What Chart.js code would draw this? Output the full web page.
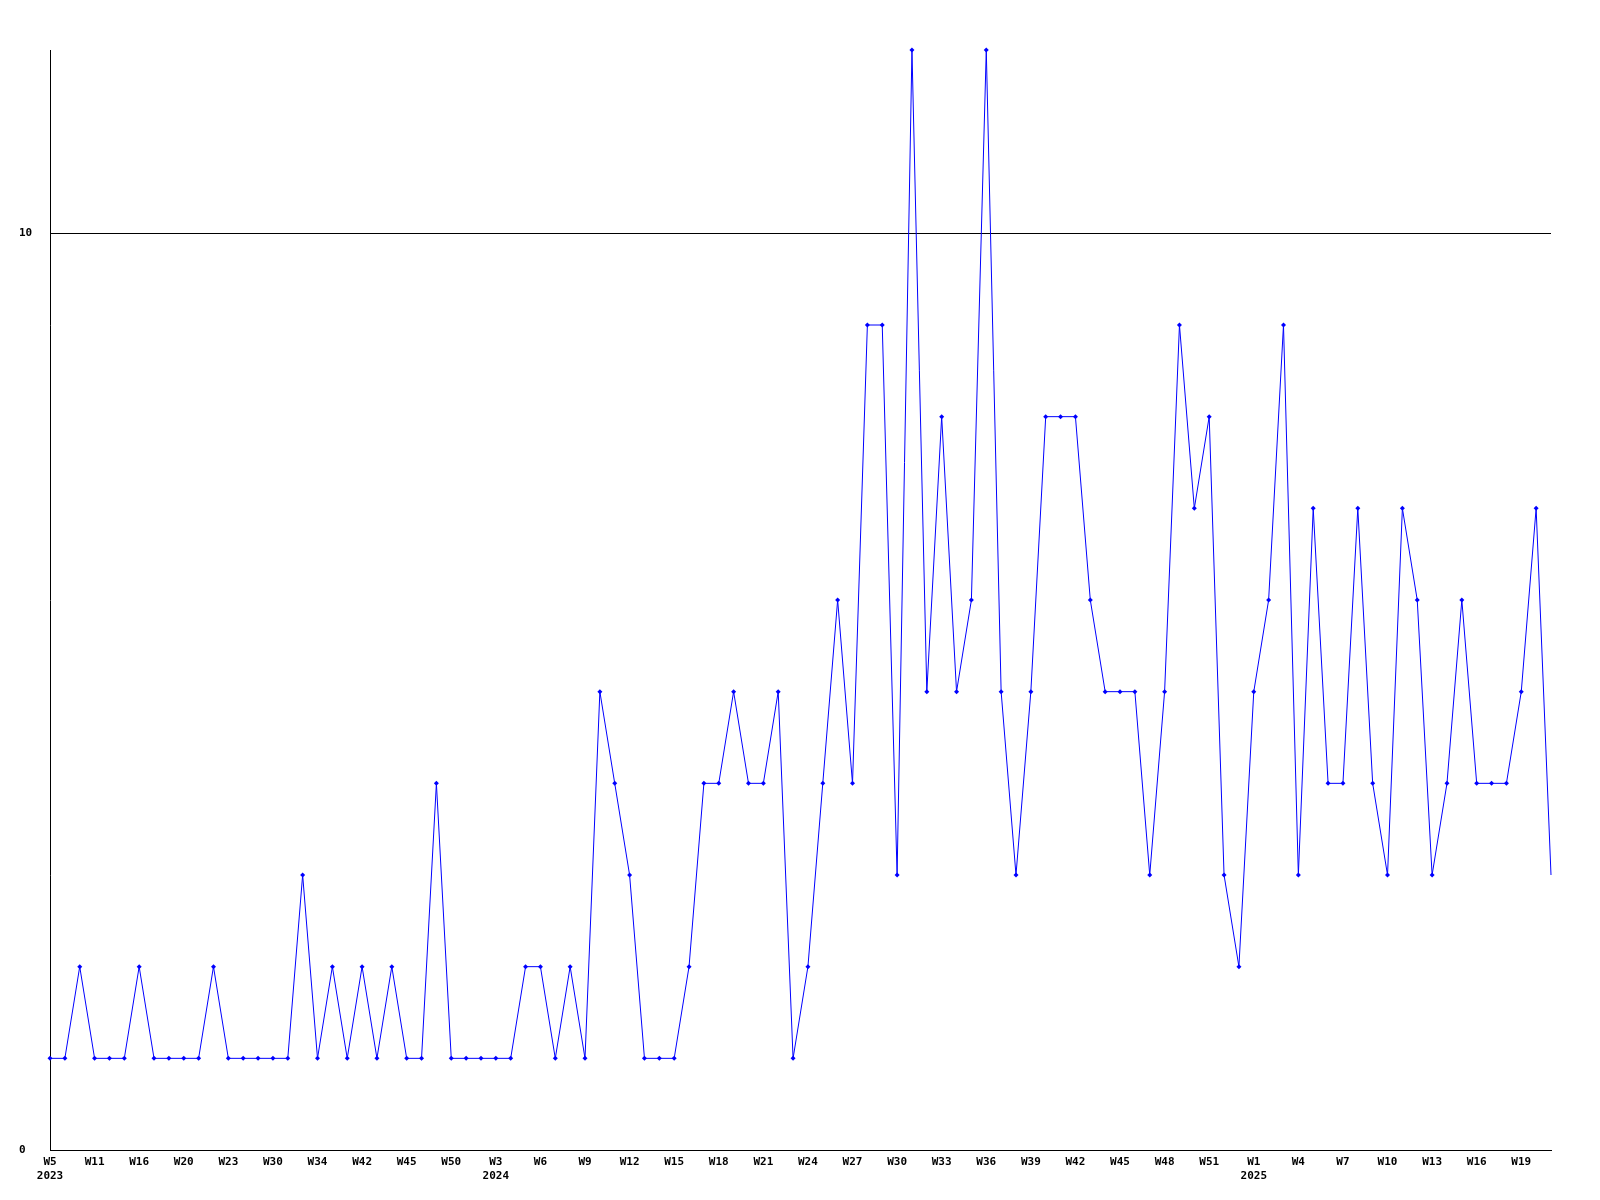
<!DOCTYPE html>
<html>
<head>
<meta charset="utf-8">
<script src="https://cdn.jsdelivr.net/npm/chart.js@4.4.0/dist/chart.umd.min.js"></script>
<style>
    html, body { margin: 0; padding: 0; background: #fff; }
    #wrap { width: 1600px; height: 1200px; }
</style>
</head>
<body>
<div id="wrap"><canvas id="myChart"></canvas></div>
<script>
// weekly counts, 2023 W5 .. 2025 W21
const weeks = [
    'W5', 'W7', 'W9', 'W11', 'W13', 'W14', 'W16', 'W17', 'W19', 'W20',
    'W21', 'W22', 'W23', 'W25', 'W27', 'W30', 'W31', 'W33', 'W34', 'W36',
    'W39', 'W42', 'W43', 'W44', 'W45', 'W46', 'W48', 'W50', 'W1', 'W2',
    'W3', 'W4', 'W5', 'W6', 'W7', 'W8', 'W9', 'W10', 'W11', 'W12',
    'W13', 'W14', 'W15', 'W16', 'W17', 'W18', 'W19', 'W20', 'W21', 'W22',
    'W23', 'W24', 'W25', 'W26', 'W27', 'W28', 'W29', 'W30', 'W31', 'W32',
    'W33', 'W34', 'W35', 'W36', 'W37', 'W38', 'W39', 'W40', 'W41', 'W42',
    'W43', 'W44', 'W45', 'W46', 'W47', 'W48', 'W49', 'W50', 'W51', 'W52',
    'W53', 'W1', 'W2', 'W3', 'W4', 'W5', 'W6', 'W7', 'W8', 'W9',
    'W10', 'W11', 'W12', 'W13', 'W14', 'W15', 'W16', 'W17', 'W18', 'W19',
    'W20', 'W21'
];
// year shown under the first labelled week of each year
const years = { 0: '2023', 30: '2024', 81: '2025' };

const counts = [
    1, 1, 2, 1, 1, 1, 2, 1, 1, 1,
    1, 2, 1, 1, 1, 1, 1, 3, 1, 2,
    1, 2, 1, 2, 1, 1, 4, 1, 1, 1,
    1, 1, 2, 2, 1, 2, 1, 5, 4, 3,
    1, 1, 1, 2, 4, 4, 5, 4, 4, 5,
    1, 2, 4, 6, 4, 9, 9, 3, 12, 5,
    8, 5, 6, 12, 5, 3, 5, 8, 8, 8,
    6, 5, 5, 5, 3, 5, 9, 7, 8, 3,
    2, 5, 6, 9, 3, 7, 4, 4, 7, 4,
    3, 7, 6, 3, 4, 6, 4, 4, 4, 5,
    7, 3
];

const yTicks = [0, 10];

const tickFont = { family: '"DejaVu Sans Mono", "Liberation Mono", monospace', size: 11, weight: 'bold', lineHeight: 1.3 };

document.addEventListener("DOMContentLoaded", function () {
    const data = {
        labels: weeks,
        datasets: [{
            data: counts,
            borderColor: '#0000ff',
            backgroundColor: '#0000ff',
            borderWidth: 1,
            tension: 0,
            pointStyle: 'rectRot',
            pointRadius: ctx => ctx.dataIndex === counts.length - 1 ? 0 : 2.5,
            pointBorderWidth: 0,
            clip: false
        }]
    };
    const config = {
        type: 'line',
        data: data,
        options: {
            responsive: true,
            maintainAspectRatio: false,
            animation: false,
            layout: {
                padding: { left: 19, right: 49, top: 50, bottom: 0 }
            },
            scales: {
                x: {
                    offset: false,
                    grid: { display: false, drawTicks: false },
                    border: { display: true, color: '#000', width: 1 },
                    ticks: {
                        autoSkip: false,
                        maxRotation: 0,
                        padding: 5,
                        color: '#000',
                        font: tickFont,
                        callback: function (value, index) {
                            if (index % 3 !== 0) return null;
                            const w = weeks[index];
                            return years[index] ? [w, years[index]] : w;
                        }
                    },
                    afterFit: function (scale) {
                        scale.height = 50;
                    }
                },
                y: {
                    min: 0,
                    max: 12,
                    afterBuildTicks: function (scale) {
                        scale.ticks = yTicks.map(v => ({ value: v }));
                    },
                    grid: {
                        color: '#000',
                        lineWidth: 1,
                        drawTicks: false
                    },
                    border: { display: true, color: '#000', width: 1 },
                    ticks: {
                        crossAlign: 'far',
                        color: '#000',
                        font: tickFont
                    },
                    afterFit: function (scale) {
                        scale.width = 31;
                    }
                }
            },
            plugins: {
                legend: { display: false },
                tooltip: { enabled: false },
                title: { display: false }
            }
        }
    };
    var myChart = new Chart(
        document.getElementById('myChart'),
        config
    );
});
</script>
</body>
</html>
